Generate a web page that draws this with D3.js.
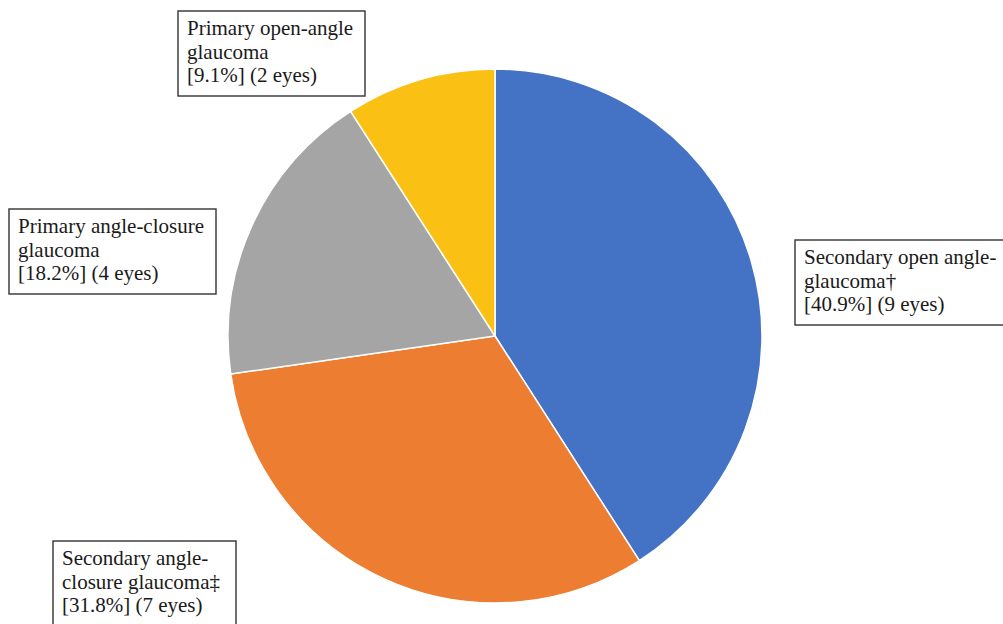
<!DOCTYPE html>
<html>
<head>
<meta charset="utf-8">
<script src="https://cdn.jsdelivr.net/npm/d3@7"></script>
<style>
  body { margin: 0; background: #fff; overflow: hidden; }
  svg { display: block; }
  text { font-family: "Liberation Serif", "DejaVu Serif", serif; font-size: 21px; fill: #1a1a1a; }
</style>
</head>
<body>
<script>
// slices in drawing order, clockwise from 12 o'clock
var categories = ["Secondary open angle-glaucoma", "Secondary angle-closure glaucoma", "Primary angle-closure glaucoma", "Primary open-angle glaucoma"];
var eyes = [9, 7, 4, 2];
var percents = ["40.9%", "31.8%", "18.2%", "9.1%"];
var colors = ["#4472c4", "#ed7d31", "#a5a5a5", "#fbc014"];
// label lines as wrapped in the original
var labelLines = [
  ["Secondary open angle-", "glaucoma\u2020", "[40.9%] (9 eyes)"],
  ["Secondary angle-", "closure glaucoma\u2021", "[31.8%] (7 eyes)"],
  ["Primary angle-closure", "glaucoma", "[18.2%] (4 eyes)"],
  ["Primary open-angle", "glaucoma", "[9.1%] (2 eyes)"]
];
// label box positions (x, y, w, h)
var boxes = [
  [795, 240, 215, 85],
  [53, 541, 183, 90],
  [9, 209, 207, 85],
  [178, 11, 187, 85]
];

var width = 1003, height = 624;
var cx = 495, cy = 336, radius = 267;

var svg = d3.select("body").append("svg")
    .attr("width", width)
    .attr("height", height);

var pie = d3.pie().sort(null).value(function(d) { return d; });
var arc = d3.arc().innerRadius(0).outerRadius(radius);

var g = svg.append("g")
    .attr("transform", "translate(" + cx + "," + cy + ")");

g.selectAll("path")
    .data(pie(eyes))
    .enter().append("path")
    .attr("d", arc)
    .attr("fill", function(d, i) { return colors[i]; })
    .attr("stroke", "#fff")
    .attr("stroke-width", 1.5);

var lab = svg.selectAll(".label")
    .data(labelLines)
    .enter().append("g")
    .attr("class", "label")
    .attr("transform", function(d, i) { return "translate(" + boxes[i][0] + "," + boxes[i][1] + ")"; });

lab.append("rect")
    .attr("width", function(d, i) { return boxes[i][2]; })
    .attr("height", function(d, i) { return boxes[i][3]; })
    .attr("fill", "#fff")
    .attr("stroke", "#333")
    .attr("stroke-width", 1.4);

lab.selectAll("text")
    .data(function(d) { return d; })
    .enter().append("text")
    .attr("x", 9)
    .attr("y", function(d, j) { return 24 + j * 23.5; })
    .text(function(d) { return d; });
</script>
</body>
</html>
